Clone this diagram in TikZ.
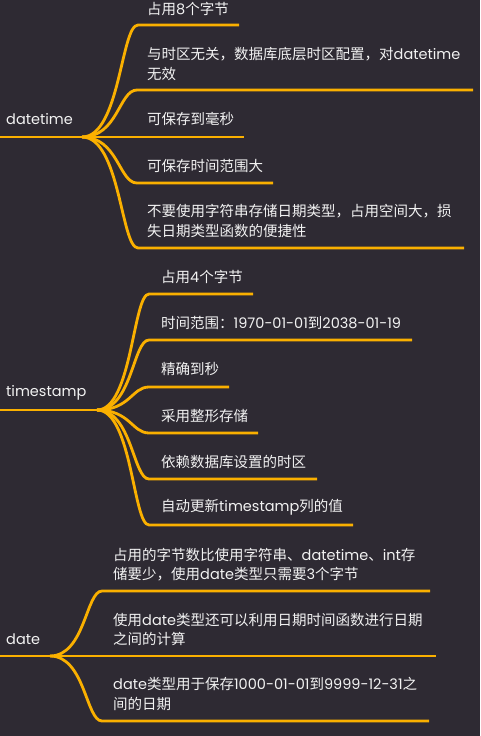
\documentclass[tikz,border=0pt]{standalone}
\usepackage{fontspec}
\setmainfont{Poppins}
\newfontfamily\cjk{Noto Sans CJK SC}
\newcommand\zh[1]{{\cjk #1}}
\definecolor{bgC}{HTML}{2E2A33}
\definecolor{lineC}{HTML}{FAB000}
\definecolor{txtC}{HTML}{F2F2F2}
\begin{document}
\begin{tikzpicture}[x=1pt,y=-1pt,
  conn/.style={draw=lineC, line width=2.8pt},
  lbl/.style={text=txtC, anchor=west, inner sep=0pt, align=left,
    font=\fontsize{14.5}{19.5}\selectfont}]
\useasboundingbox (0,0) rectangle (480,736);
\fill[bgC] (0,0) rectangle (480,736);

% ---------- datetime ----------
\node[lbl] (dtr) at (6,119) {datetime};
\node[lbl] (d1) at (147,9) {\zh{占用}8\zh{个字节}};
\node[lbl] (d2) at (147,64) {\zh{与时区无关，数据库底层时区配置，对}datetime\\\zh{无效}};
\node[lbl] (d3) at (147,119) {\zh{可保存到毫秒}};
\node[lbl] (d4) at (147,166) {\zh{可保存时间范围大}};
\node[lbl] (d5) at (147,221) {\zh{不要使用字符串存储日期类型，占用空间大，损}\\\zh{失日期类型函数的便捷性}};
\coordinate (dt0) at (0,137);
\coordinate (dtj) at (82,137);
\coordinate (d1s) at (138,25);  \coordinate (d1e) at (239,25);
\coordinate (d2s) at (137,90);  \coordinate (d2e) at (473,90);
\coordinate (d3s) at (137,137); \coordinate (d3e) at (244,137);
\coordinate (d4s) at (137,183); \coordinate (d4e) at (273,183);
\coordinate (d5s) at (138,248); \coordinate (d5e) at (464,248);
\draw[conn] (dt0) -- (dtj);
\draw[conn] (dtj) .. controls +(38,0) and +(-17,0) .. (d1s) -- (d1e);
\draw[conn] (dtj) .. controls +(36,0) and +(-18,0) .. (d2s) -- (d2e);
\draw[conn] (dtj) -- (d3s) -- (d3e);
\draw[conn] (dtj) .. controls +(36,0) and +(-18,0) .. (d4s) -- (d4e);
\draw[conn] (dtj) .. controls +(38,0) and +(-17,0) .. (d5s) -- (d5e);

% ---------- timestamp ----------
\node[lbl] (tsr) at (6,393) {timestamp};
\node[lbl] (t1) at (161,277) {\zh{占用}4\zh{个字节}};
\node[lbl] (t2) at (161,323) {\zh{时间范围：}1970-01-01\zh{到}2038-01-19};
\node[lbl] (t3) at (161,369) {\zh{精确到秒}};
\node[lbl] (t4) at (161,416) {\zh{采用整形存储}};
\node[lbl] (t5) at (161,462) {\zh{依赖数据库设置的时区}};
\node[lbl] (t6) at (161,507) {\zh{自动更新}timestamp\zh{列的值}};
\coordinate (ts0) at (0,410);
\coordinate (tsj) at (97,410);
\coordinate (t1s) at (149,294); \coordinate (t1e) at (253,294);
\coordinate (t2s) at (149,340); \coordinate (t2e) at (412,340);
\coordinate (t3s) at (149,387); \coordinate (t3e) at (229,387);
\coordinate (t4s) at (149,433); \coordinate (t4e) at (258,433);
\coordinate (t5s) at (149,479); \coordinate (t5e) at (317,479);
\coordinate (t6s) at (149,525); \coordinate (t6e) at (353,525);
\draw[conn] (ts0) -- (tsj);
\draw[conn] (tsj) .. controls +(35,0) and +(-16,0) .. (t1s) -- (t1e);
\draw[conn] (tsj) .. controls +(35,0) and +(-16,0) .. (t2s) -- (t2e);
\draw[conn] (tsj) .. controls +(33,0) and +(-17,0) .. (t3s) -- (t3e);
\draw[conn] (tsj) .. controls +(33,0) and +(-17,0) .. (t4s) -- (t4e);
\draw[conn] (tsj) .. controls +(35,0) and +(-16,0) .. (t5s) -- (t5e);
\draw[conn] (tsj) .. controls +(35,0) and +(-16,0) .. (t6s) -- (t6e);

% ---------- date ----------
\node[lbl] (dar) at (6,639) {date};
\node[lbl] (a1) at (113,564.5) {\zh{占用的字节数比使用字符串、}datetime\zh{、}int\zh{存}\\\zh{储要少，使用}date\zh{类型只需要}3\zh{个字节}};
\node[lbl] (a2) at (113,629.5) {\zh{使用}date\zh{类型还可以利用日期时间函数进行日期}\\\zh{之间的计算}};
\node[lbl] (a3) at (113,694) {date\zh{类型用于保存}1000-01-01\zh{到}9999-12-31\zh{之}\\\zh{间的日期}};
\coordinate (da0) at (0,656);
\coordinate (daj) at (50,656);
\coordinate (a1s) at (102,591); \coordinate (a1e) at (430,591);
\coordinate (a2s) at (102,656); \coordinate (a2e) at (436,656);
\coordinate (a3s) at (102,721); \coordinate (a3e) at (429,721);
\draw[conn] (da0) -- (daj);
\draw[conn] (daj) .. controls +(35,0) and +(-16,0) .. (a1s) -- (a1e);
\draw[conn] (daj) -- (a2s) -- (a2e);
\draw[conn] (daj) .. controls +(35,0) and +(-16,0) .. (a3s) -- (a3e);
\end{tikzpicture}
\end{document}
